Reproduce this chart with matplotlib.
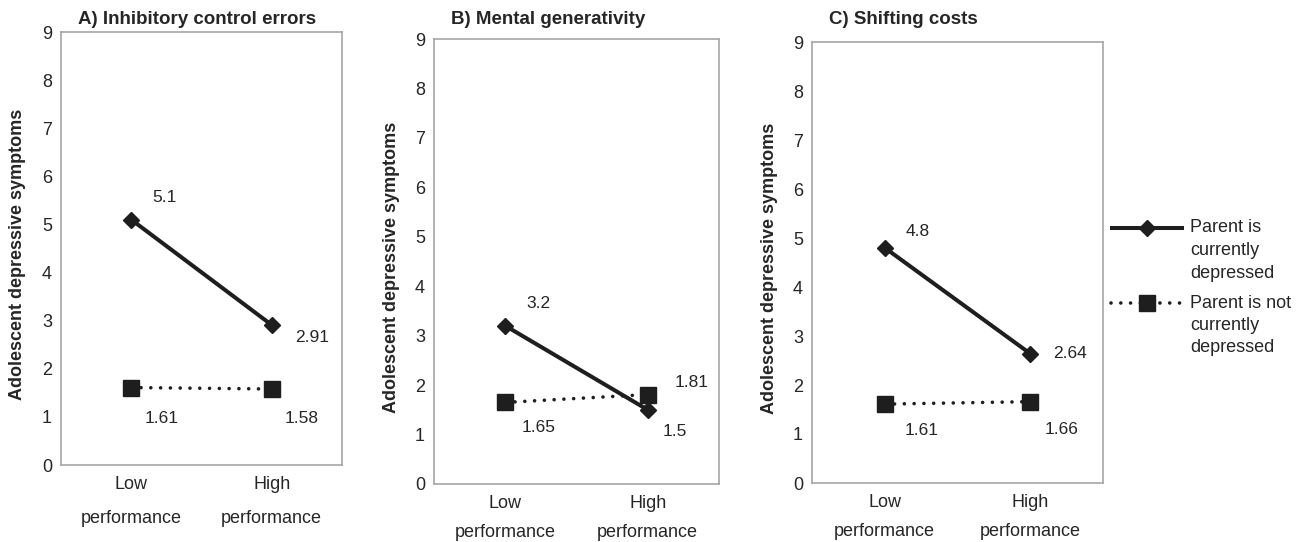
import matplotlib.pyplot as plt

plt.rcParams['font.family'] = ['Liberation Sans', 'DejaVu Sans']

# data
categories = ['Low\nperformance', 'High\nperformance']
panel_titles = ['A) Inhibitory control errors', 'B) Mental generativity', 'C) Shifting costs']
depressed = [[5.1, 2.91], [3.2, 1.5], [4.8, 2.64]]
not_depressed = [[1.61, 1.58], [1.65, 1.81], [1.61, 1.66]]
y_ticks = list(range(0, 10))
series_labels = ['Parent is\ncurrently\ndepressed', 'Parent is not\ncurrently\ndepressed']
y_title = 'Adolescent depressive symptoms'

# layout (pixels): axes boxes and label offsets
W, H = 1303, 542
boxes = [(61, 32, 342, 465), (434, 39, 719, 484), (812, 42, 1103, 483)]
ylabel_x = [18, 392, 770]
xlab_spacing = [2.3, 1.9, 1.9]
off_dep = [[(33, 22), (40, -13)], [(33, 22), (27, -22)], [(33, 16), (40, 0)]]
off_not = [[(30, -31), (30, -30)], [(33, -25), (44, 12)], [(37, -26), (31, -28)]]

ink = '#1e1e1e'
txt = '#262626'
edge = '#a6a6a6'

fig = plt.figure(figsize=(W / 100, H / 100), dpi=100)

for i in range(3):
    l, t, r, b = boxes[i]
    ax = fig.add_axes([l / W, 1 - b / H, (r - l) / W, (b - t) / H])
    x = [0, 1]
    ax.plot(x, not_depressed[i], color=ink, lw=2.6, linestyle=(0, (0.01, 2.7)),
            dash_capstyle='round', marker='s', ms=11, mec=ink, mfc=ink, zorder=3)
    ax.plot(x, depressed[i], color=ink, lw=2.9, marker='D', ms=8, mec=ink, mfc=ink, zorder=4)
    for j in range(2):
        ax.annotate(f'{depressed[i][j]:g}', (x[j], depressed[i][j]), xytext=off_dep[i][j],
                    textcoords='offset pixels', ha='center', va='center', fontsize=12.5, color=txt)
        ax.annotate(f'{not_depressed[i][j]:g}', (x[j], not_depressed[i][j]), xytext=off_not[i][j],
                    textcoords='offset pixels', ha='center', va='center', fontsize=12.5, color=txt)
    ax.set_xlim(-0.5, 1.5)
    ax.set_ylim(0, 9)
    ax.set_yticks(y_ticks)
    ax.set_xticks(x)
    ax.set_xticklabels(categories, linespacing=xlab_spacing[i])
    ax.tick_params(length=0, labelsize=13, colors=txt)
    ax.tick_params(axis='y', pad=6.5)
    ax.tick_params(axis='x', pad=8)
    for s in ax.spines.values():
        s.set_color(edge)
        s.set_linewidth(1.2)
    fig.text((l + 17) / W, 1 - 19 / H, panel_titles[i], fontsize=13.5, fontweight='bold',
             ha='left', va='center', color=txt)
    fig.text(ylabel_x[i] / W, 1 - ((t + b) / 2 + 6) / H, y_title, rotation=90, fontsize=13,
             fontweight='bold', ha='center', va='center', color=txt)

# legend drawn by hand so the key sits on the first text line
ov = fig.add_axes([0, 0, 1, 1])
ov.set_xlim(0, W)
ov.set_ylim(H, 0)
ov.axis('off')
ov.plot([1112, 1182], [228, 228], color=ink, lw=2.9)
ov.plot([1147], [228], marker='D', ms=8, color=ink)
ov.plot([1111, 1182], [303, 303], color=ink, lw=2.6, linestyle=(0, (0.01, 2.7)), dash_capstyle='round')
ov.plot([1147], [303], marker='s', ms=11, color=ink)
for k, y0 in enumerate([228, 303]):
    for n, line in enumerate(series_labels[k].split('\n')):
        ov.text(1190, y0 + n * 22.5, line, fontsize=13, ha='left', va='center', color=txt)

fig.savefig('out.png', dpi=100)
